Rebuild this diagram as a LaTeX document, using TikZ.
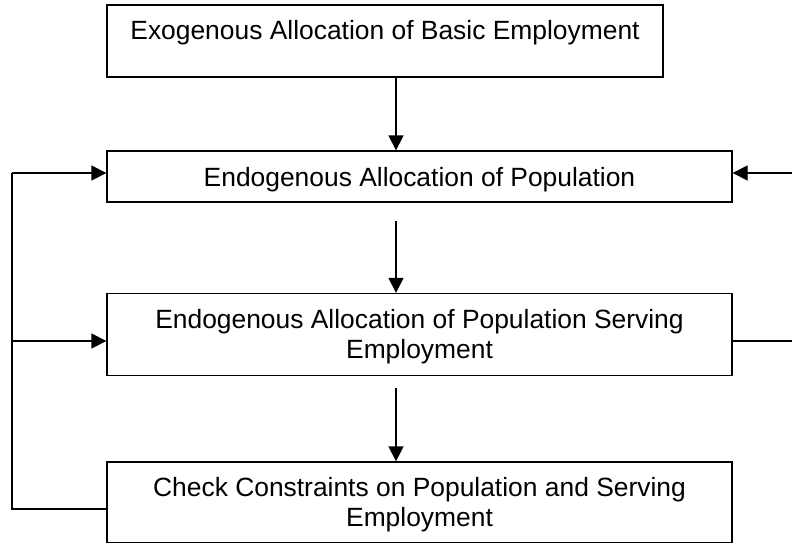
\documentclass[tikz,border=0pt]{standalone}
\usepackage{fontspec}
\setmainfont{Liberation Sans}
\usetikzlibrary{arrows.meta}
\tikzset{
  box/.style={draw, line width=1.3pt, inner sep=0pt, rectangle},
  txt/.style={inner sep=0pt, align=center, anchor=base, font=\fontsize{26.4}{30.4}\selectfont},
  link/.style={line width=1.3pt},
  arr/.style={line width=1.3pt, -{Triangle[length=15pt,width=15pt]}}
}
\begin{document}
\begin{tikzpicture}[x=1pt,y=-1pt]
\useasboundingbox (0,0) rectangle (792,543);
% boxes
\node[box, minimum width=556pt, minimum height=72pt] (b1) at (385,41) {};
\node[box, minimum width=625pt, minimum height=51pt] (b2) at (419.5,176.5) {};
\node[box, minimum width=625pt, minimum height=82pt] (b3) at (419.5,334.5) {};
\node[box, minimum width=625pt, minimum height=81pt] (b4) at (419.5,502.5) {};
% texts (base anchor = baseline of the last line)
\node[txt] (t1) at (385,40) {Exogenous Allocation of Basic Employment};
\node[txt] (t2) at (419.5,186) {Endogenous Allocation of Population};
\node[txt] (t3) at (419.5,358.4) {Endogenous Allocation of Population Serving\\Employment};
\node[txt] (t4) at (419.5,526.4) {Check Constraints on Population and Serving\\Employment};
% helper coordinates
\coordinate (ax) at (396,0);
\coordinate (s2) at (396,221);
\coordinate (s3) at (396,388);
\coordinate (lx) at (12,0);
\coordinate (rA) at (793,173);
\coordinate (rB) at (793,341);
% vertical arrows
\draw[arr] (ax |- b1.south) -- (ax |- b2.north);
\draw[arr] (s2) -- (ax |- b3.north);
\draw[arr] (s3) -- (ax |- b4.north);
% left feedback loop
\draw[link] (b4.west |- 0,509) -- (lx |- 0,509) -- (lx |- 0,173);
\draw[arr] (lx |- 0,173) -- (b2.west |- 0,173);
\draw[arr] (lx |- 0,341) -- (b3.west |- 0,341);
% right feedback loop
\draw[link] (b3.east |- rB) -- (rB);
\draw[arr] (rA) -- (b2.east |- rA);
\end{tikzpicture}
\end{document}
